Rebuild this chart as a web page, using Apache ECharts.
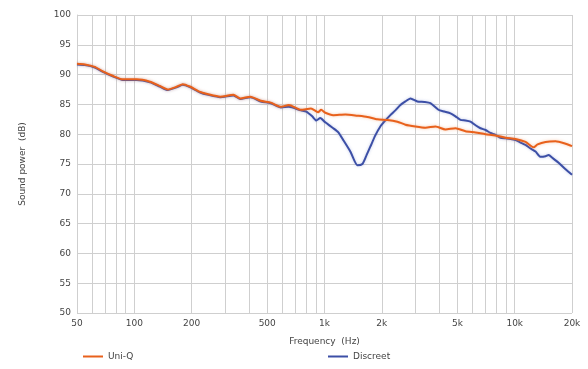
<!DOCTYPE html>
<html>
<head>
<meta charset="utf-8">
<script src="https://cdn.jsdelivr.net/npm/echarts@6/dist/echarts.min.js"></script>
<style>html,body{margin:0;padding:0;background:#fff;}#c{width:588px;height:369px;}</style>
</head>
<body>
<div id="c"></div>
<script>
const seriesNames = ['Uni-Q', 'Discreet'];
const xGridValues = [50,60,70,80,90,100,200,300,400,500,600,700,800,900,1000,2000,3000,4000,5000,6000,7000,8000,9000,10000,20000];
const xLabelValues = [50,100,200,500,1000,2000,5000,10000,20000];
const yTicks = [50,55,60,65,70,75,80,85,90,95,100];

const uniQ = [
  [50,91.8],[55,91.7],[62,91.3],[68,90.6],[77,89.8],[87,89.2],[103,89.2],[121,88.8],
  [136,88.1],[150,87.5],[168,88.0],[180,88.4],[196,88.0],[222,87.1],[245,86.7],[283,86.3],
  [332,86.6],[361,86.0],[408,86.3],[462,85.6],[522,85.3],[590,84.6],[650,84.9],[751,84.1],
  [849,84.3],[925,83.7],[960,84.1],[1010,83.6],[1112,83.2],[1287,83.3],[1488,83.1],[1680,82.9],
  [1897,82.5],[2142,82.4],[2416,82.1],[2663,81.6],[3006,81.3],[3394,81.1],[3830,81.3],[4324,80.8],
  [4881,81.0],[5510,80.5],[6221,80.3],[7022,80.0],[7927,79.8],[8948,79.4],[10100,79.2],[11400,78.7],
  [12566,77.8],[13190,78.3],[14525,78.7],[16400,78.8],[18500,78.4],[20000,78.0]
];
const discreet = [
  [50,91.7],[55,91.6],[62,91.2],[68,90.5],[77,89.7],[87,89.1],[103,89.1],[121,88.7],
  [136,88.0],[150,87.4],[168,87.9],[180,88.3],[196,87.9],[222,87.0],[245,86.6],[283,86.2],
  [332,86.5],[361,85.9],[408,86.2],[462,85.5],[522,85.2],[590,84.5],[650,84.6],[751,84.0],
  [802,83.8],[862,83.0],[906,82.3],[950,82.7],[1009,82.0],[1112,81.0],[1182,80.3],[1256,79.0],
  [1367,77.1],[1488,74.8],[1581,75.0],[1659,76.4],[1741,77.9],[1850,79.8],[1966,81.3],[2089,82.3],
  [2219,83.2],[2358,84.0],[2506,84.9],[2663,85.5],[2830,86.0],[3077,85.5],[3350,85.4],[3604,85.2],
  [3970,84.1],[4270,83.8],[4594,83.5],[4881,83.0],[5187,82.4],[5510,82.3],[5853,82.1],[6221,81.5],
  [6605,81.0],[7022,80.7],[7462,80.2],[7927,79.9],[8421,79.4],[8948,79.3],[9505,79.2],[10100,79.0],
  [10730,78.6],[11400,78.2],[12110,77.6],[12860,77.1],[13680,76.2],[14525,76.3],[15060,76.5],[15810,76.0],
  [17010,75.2],[18500,74.1],[20000,73.2]
];

const chart = echarts.init(document.getElementById('c'), null, {renderer: 'canvas'});
const font = 'DejaVu Sans';
const txt = '#444';
chart.setOption({
  animation: false,
  backgroundColor: '#fff',
  textStyle: {fontFamily: font},
  grid: {left: 77, right: 16, top: 15, bottom: 56, containLabel: false},
  legend: [
    {data: [seriesNames[0]], left: 78, top: 347, icon: 'rect', itemWidth: 20, itemHeight: 2,
     textStyle: {fontFamily: font, fontSize: 9, color: txt}},
    {data: [seriesNames[1]], left: 323, top: 347, icon: 'rect', itemWidth: 20, itemHeight: 2,
     textStyle: {fontFamily: font, fontSize: 9, color: txt}}
  ],
  xAxis: {
    type: 'log', logBase: 10, min: 50, max: 20000,
    name: 'Frequency  (Hz)', nameLocation: 'middle', nameGap: 24,
    nameTextStyle: {fontFamily: font, fontSize: 9, color: txt},
    axisLine: {show: false},
    axisTick: {show: false, customValues: xGridValues},
    axisLabel: {customValues: xLabelValues, fontFamily: font, fontSize: 9, color: txt, margin: 6,
      formatter: v => v >= 1000 ? (v/1000) + 'k' : String(v)},
    splitLine: {show: true, lineStyle: {color: '#cfcfcf', width: 1}},
    minorSplitLine: {show: false}
  },
  yAxis: {
    type: 'value', min: 50, max: 100, interval: 5,
    name: 'Sound power  (dB)', nameLocation: 'middle', nameGap: 50, nameRotate: 90,
    nameTextStyle: {fontFamily: font, fontSize: 9, color: txt},
    axisLine: {show: true, lineStyle: {color: '#cfcfcf'}},
    axisTick: {show: false},
    axisLabel: {fontFamily: font, fontSize: 9, color: txt, margin: 6, formatter: v => yTicks.includes(v) ? String(v) : ''},
    splitLine: {show: true, lineStyle: {color: '#cfcfcf', width: 1}}
  },
  series: [
    {name: seriesNames[0], type: 'line', data: uniQ, showSymbol: false, smooth: 0.2, z: 4,
     color: '#e8611c', lineStyle: {width: 2, color: '#e8611c', shadowColor: 'rgba(240,140,80,0.5)', shadowBlur: 3}},
    {name: seriesNames[1], type: 'line', data: discreet, showSymbol: false, smooth: 0.2, z: 3,
     color: '#3c4fa6', lineStyle: {width: 2, color: '#3c4fa6', shadowColor: 'rgba(100,120,200,0.4)', shadowBlur: 3}}
  ]
});
</script>
</body>
</html>
